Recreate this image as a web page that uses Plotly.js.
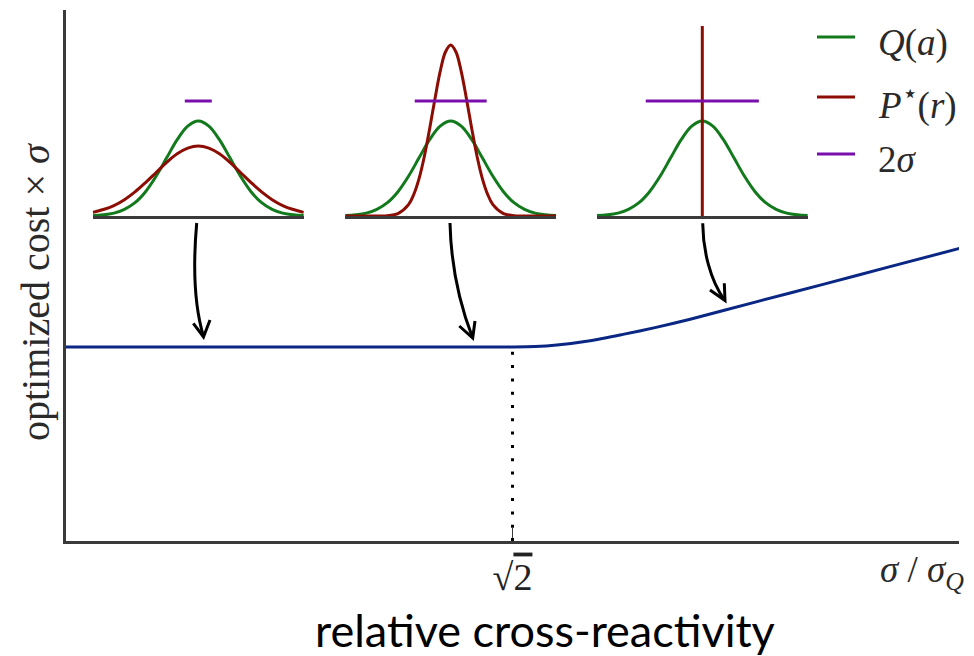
<!DOCTYPE html>
<html>
<head>
<meta charset="utf-8">
<script src="https://cdn.plot.ly/plotly-3.0.1.min.js"></script>
<style>html,body{margin:0;padding:0;background:#fff;}#chart{width:974px;height:656px;}</style>
</head>
<body>
<div id="chart"></div>
<script>
// ---- data ----
// main curve: optimized cost x sigma vs sigma / sigma_Q
const relSigma = [0, 0.741, 1.4142, 1.486, 1.555, 1.660, 1.764, 1.869, 1.977, 2.189, 2.398, 2.610, 2.832];
const costTimesSigma = [1.0, 1.0, 1.0, 1.002, 1.010, 1.032, 1.065, 1.101, 1.143, 1.234, 1.323, 1.414, 1.509];
const xTickVals = [1.4142];
const xTickText = ['√<span style="text-decoration:overline">2</span>'];

// insets: shared antigen distribution Q(a)
const qX = [-1, -0.9, -0.8, -0.7, -0.6, -0.5, -0.4, -0.3, -0.2, -0.1, 0, 0.1, 0.2, 0.3, 0.4, 0.5, 0.6, 0.7, 0.8, 0.9, 1];
const qY = [0.002, 0.006, 0.015, 0.035, 0.070, 0.128, 0.209, 0.306, 0.402, 0.473, 0.5, 0.473, 0.402, 0.306, 0.209, 0.128, 0.070, 0.035, 0.015, 0.006, 0.002];
// inset 1: broad repertoire P*(r)
const p1X = [-1, -0.9, -0.8, -0.7, -0.6, -0.5, -0.4, -0.3, -0.2, -0.1, 0, 0.1, 0.2, 0.3, 0.4, 0.5, 0.6, 0.7, 0.8, 0.9, 1];
const p1Y = [0.019, 0.034, 0.055, 0.086, 0.127, 0.176, 0.229, 0.282, 0.327, 0.357, 0.368, 0.357, 0.327, 0.282, 0.229, 0.176, 0.127, 0.086, 0.055, 0.034, 0.019];
// inset 2: narrow repertoire P*(r)
const p2X = [-1, -0.8, -0.6, -0.5, -0.4, -0.35, -0.3, -0.25, -0.2, -0.15, -0.1, -0.05, 0, 0.05, 0.1, 0.15, 0.2, 0.25, 0.3, 0.35, 0.4, 0.5, 0.6, 0.8, 1];
const p2Y = [0, 0, 0.002, 0.013, 0.060, 0.114, 0.197, 0.313, 0.458, 0.615, 0.760, 0.863, 0.9, 0.863, 0.760, 0.615, 0.458, 0.313, 0.197, 0.114, 0.060, 0.013, 0.002, 0, 0];
// inset 3: delta repertoire
const p3X = [0, 0];
const p3Y = [0, 1];
// 2 sigma bars (half-widths) and their height
const sigmaHalfWidths = [0.128, 0.341, 0.536];
const barLevel = 0.605;
const legendLabels = ['<i>Q</i>(<i>a</i>)', '<i>P</i><sup>⋆</sup>(<i>r</i>)', '2<i>σ</i>'];

// ---- styling ----
const GREEN = '#127a1c', RED = '#8b0d04', PURPLE = '#7a0fae', NAVY = '#0b2784', AX = '#3a3a3a';
const SERIF = 'Liberation Serif, DejaVu Serif, serif';
const W = 974, H = 656, L = 66, R = 959, T = 10, B = 541;
const px2x = p => (p - L) / (R - L);
const py2y = p => (B - p) / (B - T);

const traces = [];
traces.push({x: relSigma, y: costTimesSigma, type: 'scatter', mode: 'lines',
  line: {color: NAVY, width: 3, shape: 'spline', smoothing: 0.6}, xaxis: 'x', yaxis: 'y', hoverinfo: 'skip'});

const reps = [[p1X, p1Y], [p2X, p2Y], [p3X, p3Y]];
for (let i = 0; i < 3; i++) {
  const xa = 'x' + (i + 2), ya = 'y' + (i + 2);
  traces.push({x: qX, y: qY, type: 'scatter', mode: 'lines', line: {color: GREEN, width: 3, shape: 'spline'}, xaxis: xa, yaxis: ya, hoverinfo: 'skip'});
  traces.push({x: reps[i][0], y: reps[i][1], type: 'scatter', mode: 'lines', line: {color: RED, width: 3, shape: i === 2 ? 'linear' : 'spline'}, xaxis: xa, yaxis: ya, hoverinfo: 'skip'});
  traces.push({x: [-sigmaHalfWidths[i], sigmaHalfWidths[i]], y: [barLevel, barLevel], type: 'scatter', mode: 'lines', line: {color: PURPLE, width: 3}, xaxis: xa, yaxis: ya, hoverinfo: 'skip'});
}

const insetCenters = [198.3, 450.7, 702.3];
const halfW = 105.5;
const insetY = [py2y(216), py2y(26)];

const layout = {
  width: W, height: H,
  margin: {l: L, r: W - R, t: T, b: H - B},
  paper_bgcolor: '#fff', plot_bgcolor: '#fff',
  showlegend: false,
  xaxis: {range: [0, 2.8284], showline: true, linecolor: AX, linewidth: 3, showgrid: false, zeroline: false,
    tickvals: xTickVals, ticktext: xTickText, ticks: 'inside', ticklen: 13, tickwidth: 1.2, tickcolor: AX,
    tickfont: {family: SERIF, size: 38, color: '#222'}, fixedrange: true},
  yaxis: {range: [0, 2.737], showline: true, linecolor: AX, linewidth: 3, showgrid: false, zeroline: false,
    showticklabels: false, ticks: '', fixedrange: true},
  shapes: [],
  annotations: []
};

for (let i = 0; i < 3; i++) {
  const c = insetCenters[i];
  layout['xaxis' + (i + 2)] = {domain: [px2x(c - halfW), px2x(c + halfW)], anchor: 'y' + (i + 2), range: [-1, 1],
    showline: true, linecolor: AX, linewidth: 3, showgrid: false, zeroline: false, ticks: '', showticklabels: false, fixedrange: true};
  layout['yaxis' + (i + 2)] = {domain: insetY, anchor: 'x' + (i + 2), range: [0, 1], visible: false, fixedrange: true};
}

// dotted guide at sqrt(2)
layout.shapes.push({type: 'line', xref: 'x', yref: 'y', x0: xTickVals[0], x1: xTickVals[0], y0: 0, y1: costTimesSigma[2],
  line: {color: '#000', width: 3, dash: '3px,10.3px'}, layer: 'above'});

// curved arrows (pixel geometry -> paper)
const arrows = [
  {p: [[196.7, 223], [193, 265], [194, 305], [203.5, 336.5]], head: [[193.3, 323.3], [203.5, 337], [210, 320]]},
  {p: [[450, 223], [451, 265], [458, 300], [472.5, 337.5]], head: [[459.3, 326], [472.7, 338], [475, 321]]},
  {p: [[702.7, 223.3], [703, 250], [710, 280], [724.5, 300]], head: [[710, 290], [725, 300.5], [724.3, 283.3]]}
];
const pt = q => px2x(q[0]).toFixed(5) + ',' + py2y(q[1]).toFixed(5);
arrows.forEach(a => {
  layout.shapes.push({type: 'path', xref: 'paper', yref: 'paper',
    path: 'M' + pt(a.p[0]) + ' C' + pt(a.p[1]) + ' ' + pt(a.p[2]) + ' ' + pt(a.p[3]),
    line: {color: '#000', width: 3}});
  layout.shapes.push({type: 'path', xref: 'paper', yref: 'paper',
    path: 'M' + pt(a.head[0]) + ' L' + pt(a.head[1]) + ' L' + pt(a.head[2]),
    line: {color: '#000', width: 3}});
});

// legend (manual)
const legColors = [GREEN, RED, PURPLE];
const legY = [37, 97, 154];
for (let i = 0; i < 3; i++) {
  layout.shapes.push({type: 'line', xref: 'paper', yref: 'paper', x0: px2x(817), x1: px2x(855), y0: py2y(legY[i]), y1: py2y(legY[i]),
    line: {color: legColors[i], width: 3}});
  layout.annotations.push({xref: 'paper', yref: 'paper', x: px2x(876), y: py2y(legY[i] + 6), xanchor: 'left', yanchor: 'middle',
    text: legendLabels[i], showarrow: false, font: {family: SERIF, size: 37, color: '#2a2a2a'}});
}

// axis texts
layout.annotations.push({xref: 'paper', yref: 'paper', x: px2x(35), y: py2y(292), xanchor: 'center', yanchor: 'middle', textangle: -90,
  text: 'optimized cost × <i>σ</i>', showarrow: false, font: {family: SERIF, size: 40, color: '#2a2a2a'}});
layout.annotations.push({xref: 'paper', yref: 'paper', x: px2x(966), y: py2y(572), xanchor: 'right', yanchor: 'middle',
  text: '<i>σ</i> / <i>σ</i><sub><i>Q</i></sub>', showarrow: false, font: {family: SERIF, size: 37, color: '#2a2a2a'}});
layout.annotations.push({xref: 'paper', yref: 'paper', x: px2x(545), y: py2y(630), xanchor: 'center', yanchor: 'middle',
  text: 'relative cross-reactivity', showarrow: false, font: {family: 'Lato, Noto Sans, sans-serif', size: 45, color: '#000'}});

Plotly.newPlot('chart', traces, layout, {displayModeBar: false, staticPlot: true});
</script>
</body>
</html>
